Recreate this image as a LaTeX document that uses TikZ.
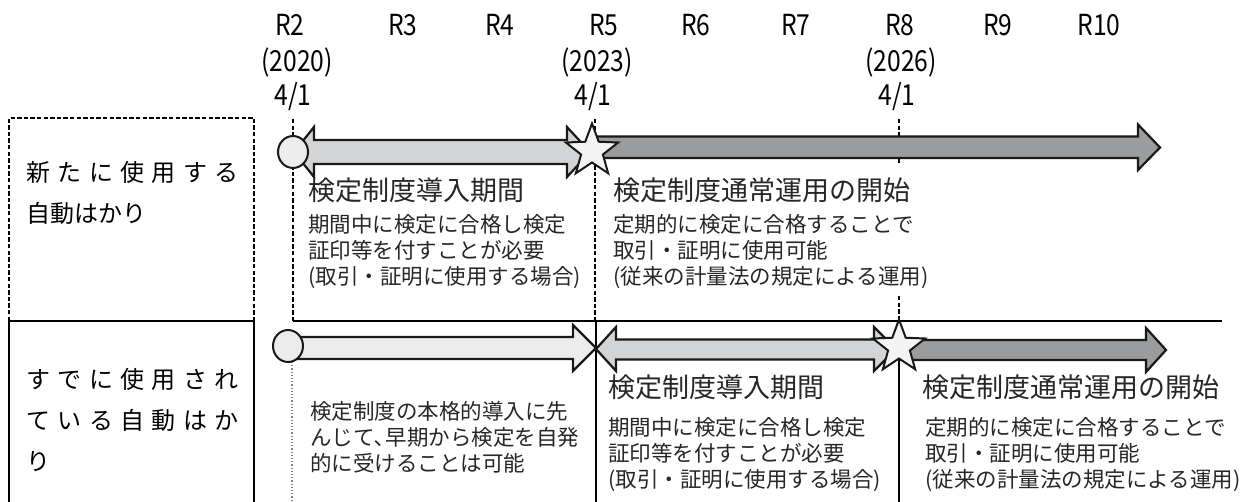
\documentclass[tikz,border=0pt]{standalone}
\usepackage{fontspec}
\setmainfont{Noto Sans CJK JP}
\newfontfamily\hdrfont[FakeStretch=0.85]{Noto Sans CJK JP}
\usetikzlibrary{shapes.geometric}

\definecolor{palegray}{HTML}{ECECEC}
\definecolor{midgray}{HTML}{D3D4D6}
\definecolor{darkgray}{HTML}{9B9C9E}
\def\spw{106pt}

\begin{document}
\begin{tikzpicture}[x=0.5pt,y=-0.5pt]
  \tikzset{hdr/.style={font=\hdrfont\fontsize{14.5}{14.5}\selectfont,inner sep=0},
    title/.style={font=\fontsize{13.5}{16}\selectfont,anchor=west,inner sep=0,text=black!85},
    note/.style={font=\fontsize{10.75}{13}\selectfont,anchor=west,inner sep=0,align=left,text=black!85},
    rowname/.style={font=\fontsize{12}{20.5}\selectfont,anchor=west,inner sep=0,align=left},
    bar/.style={draw=black!90,line width=1.1pt,line join=miter},
    guide/.style={line width=.85pt,dash pattern=on 2.2pt off 1.1pt},
    mark1/.style={ellipse,draw=black!90,fill=palegray,line width=1pt,minimum width=15pt,minimum height=16pt,inner sep=0},
    mark2/.style={star,star points=5,star point ratio=2.4,draw=black!90,fill=palegray!60,line width=1pt,minimum size=27.5pt,inner sep=0}}
  \useasboundingbox (0,0) rectangle (1248,502);

  \foreach \r/\x in {2/290,3/403,4/500,5/604,6/696,7/796,8/900,9/998,10/1099}
    \node[hdr] (r\r) at (\x,25) {R\r};
  \foreach \y/\x in {2020/297,2023/597,2026/901} {
    \node[hdr] (y\y) at (\x,62) {(\y)};
    \node[hdr] (d\y) at (\x-4,97) {4/1};
  }

  \coordinate (boxtop) at (9,118);
  \coordinate (boxsep) at (254,321);
  \draw[guide] (boxtop |- boxsep) -- (boxtop) -- (boxtop -| boxsep) -- (boxsep);
  \draw[line width=1pt] (9,502) -- (boxtop |- boxsep) -- (boxsep) -- (254,502);
  \draw[line width=.9pt] (293,321) coordinate (sepL) -- (1222,321) coordinate (sepR);

  \draw[guide] (293,119) -- (sepL);
  \draw[densely dotted,black!50,line width=.6pt] (292,362) -- (292,502);
  \draw[guide] (595,119) -- (595,321);
  \draw[line width=1pt] (596,321) -- (596,502);
  \draw[guide] (899,119) -- (899,165);
  \draw[guide] (899,296) -- (899,321);
  \draw[line width=1pt] (899,321) -- (899,502);

  \draw[bar,fill=darkgray] (592,136.5) -- (1138,136.5) -- (1138,124.5) -- (1160,147.5) -- (1138,170) -- (1138,158) -- (592,158) -- cycle;
  \draw[bar,fill=midgray] (294,152) -- (314,127) -- (314,140) -- (567,140) -- (567,127) -- (590,152) -- (567,177) -- (567,164) -- (314,164) -- (314,177) -- cycle;
  \node[mark1] (start1) at (293,152) {};
  \node[mark2] (star1) at (592,151) {};

  \draw[bar,fill=darkgray] (899,340) -- (1146,340) -- (1146,328) -- (1166,350) -- (1146,372) -- (1146,360) -- (899,360) -- cycle;
  \draw[bar,fill=midgray] (596,349) -- (616,327) -- (616,339.5) -- (874,339.5) -- (874,327) -- (896,349) -- (874,371) -- (874,359.5) -- (616,359.5) -- (616,371) -- cycle;
  \draw[bar,fill=palegray] (290,337) -- (573,337) -- (573,325) -- (596,348) -- (573,371) -- (573,359) -- (290,359) -- cycle;
  \node[mark1] (start2) at (288,346) {};
  \node[mark2] (star2) at (899,347) {};

  \node[rowname] (new) at (26,193) {\makebox[\spw][s]{新\hfill た\hfill に\hfill 使\hfill 用\hfill す\hfill る}\\自動はかり};
  \node[title] (intro1) at (308,190) {検定制度導入期間};
  \node[note] (introtxt1) at (308,252) {期間中に検定に合格し検定\\証印等を付すことが必要\\(取引・証明に使用する場合)};
  \node[title] (normal1) at (613,190) {検定制度通常運用の開始};
  \node[note] (normaltxt1) at (613,252) {定期的に検定に合格することで\\取引・証明に使用可能\\(従来の計量法の規定による運用)};

  \node[rowname] (used) at (26,420) {\makebox[\spw][s]{す\hfill で\hfill に\hfill 使\hfill 用\hfill さ\hfill れ}\\\makebox[\spw][s]{て\hfill い\hfill る\hfill 自\hfill 動\hfill は\hfill か}\\り};
  \node[note] (early) at (310,437) {検定制度の本格的導入に先\\んじて､早期から検定を自発\\的に受けることは可能};
  \node[title] (intro2) at (608,387) {検定制度導入期間};
  \node[note] (introtxt2) at (608,455) {期間中に検定に合格し検定\\証印等を付すことが必要\\(取引・証明に使用する場合)};
  \node[title] (normal2) at (922,387) {検定制度通常運用の開始};
  \node[note] (normaltxt2) at (925,455) {定期的に検定に合格することで\\取引・証明に使用可能\\(従来の計量法の規定による運用)};
\end{tikzpicture}
\end{document}
